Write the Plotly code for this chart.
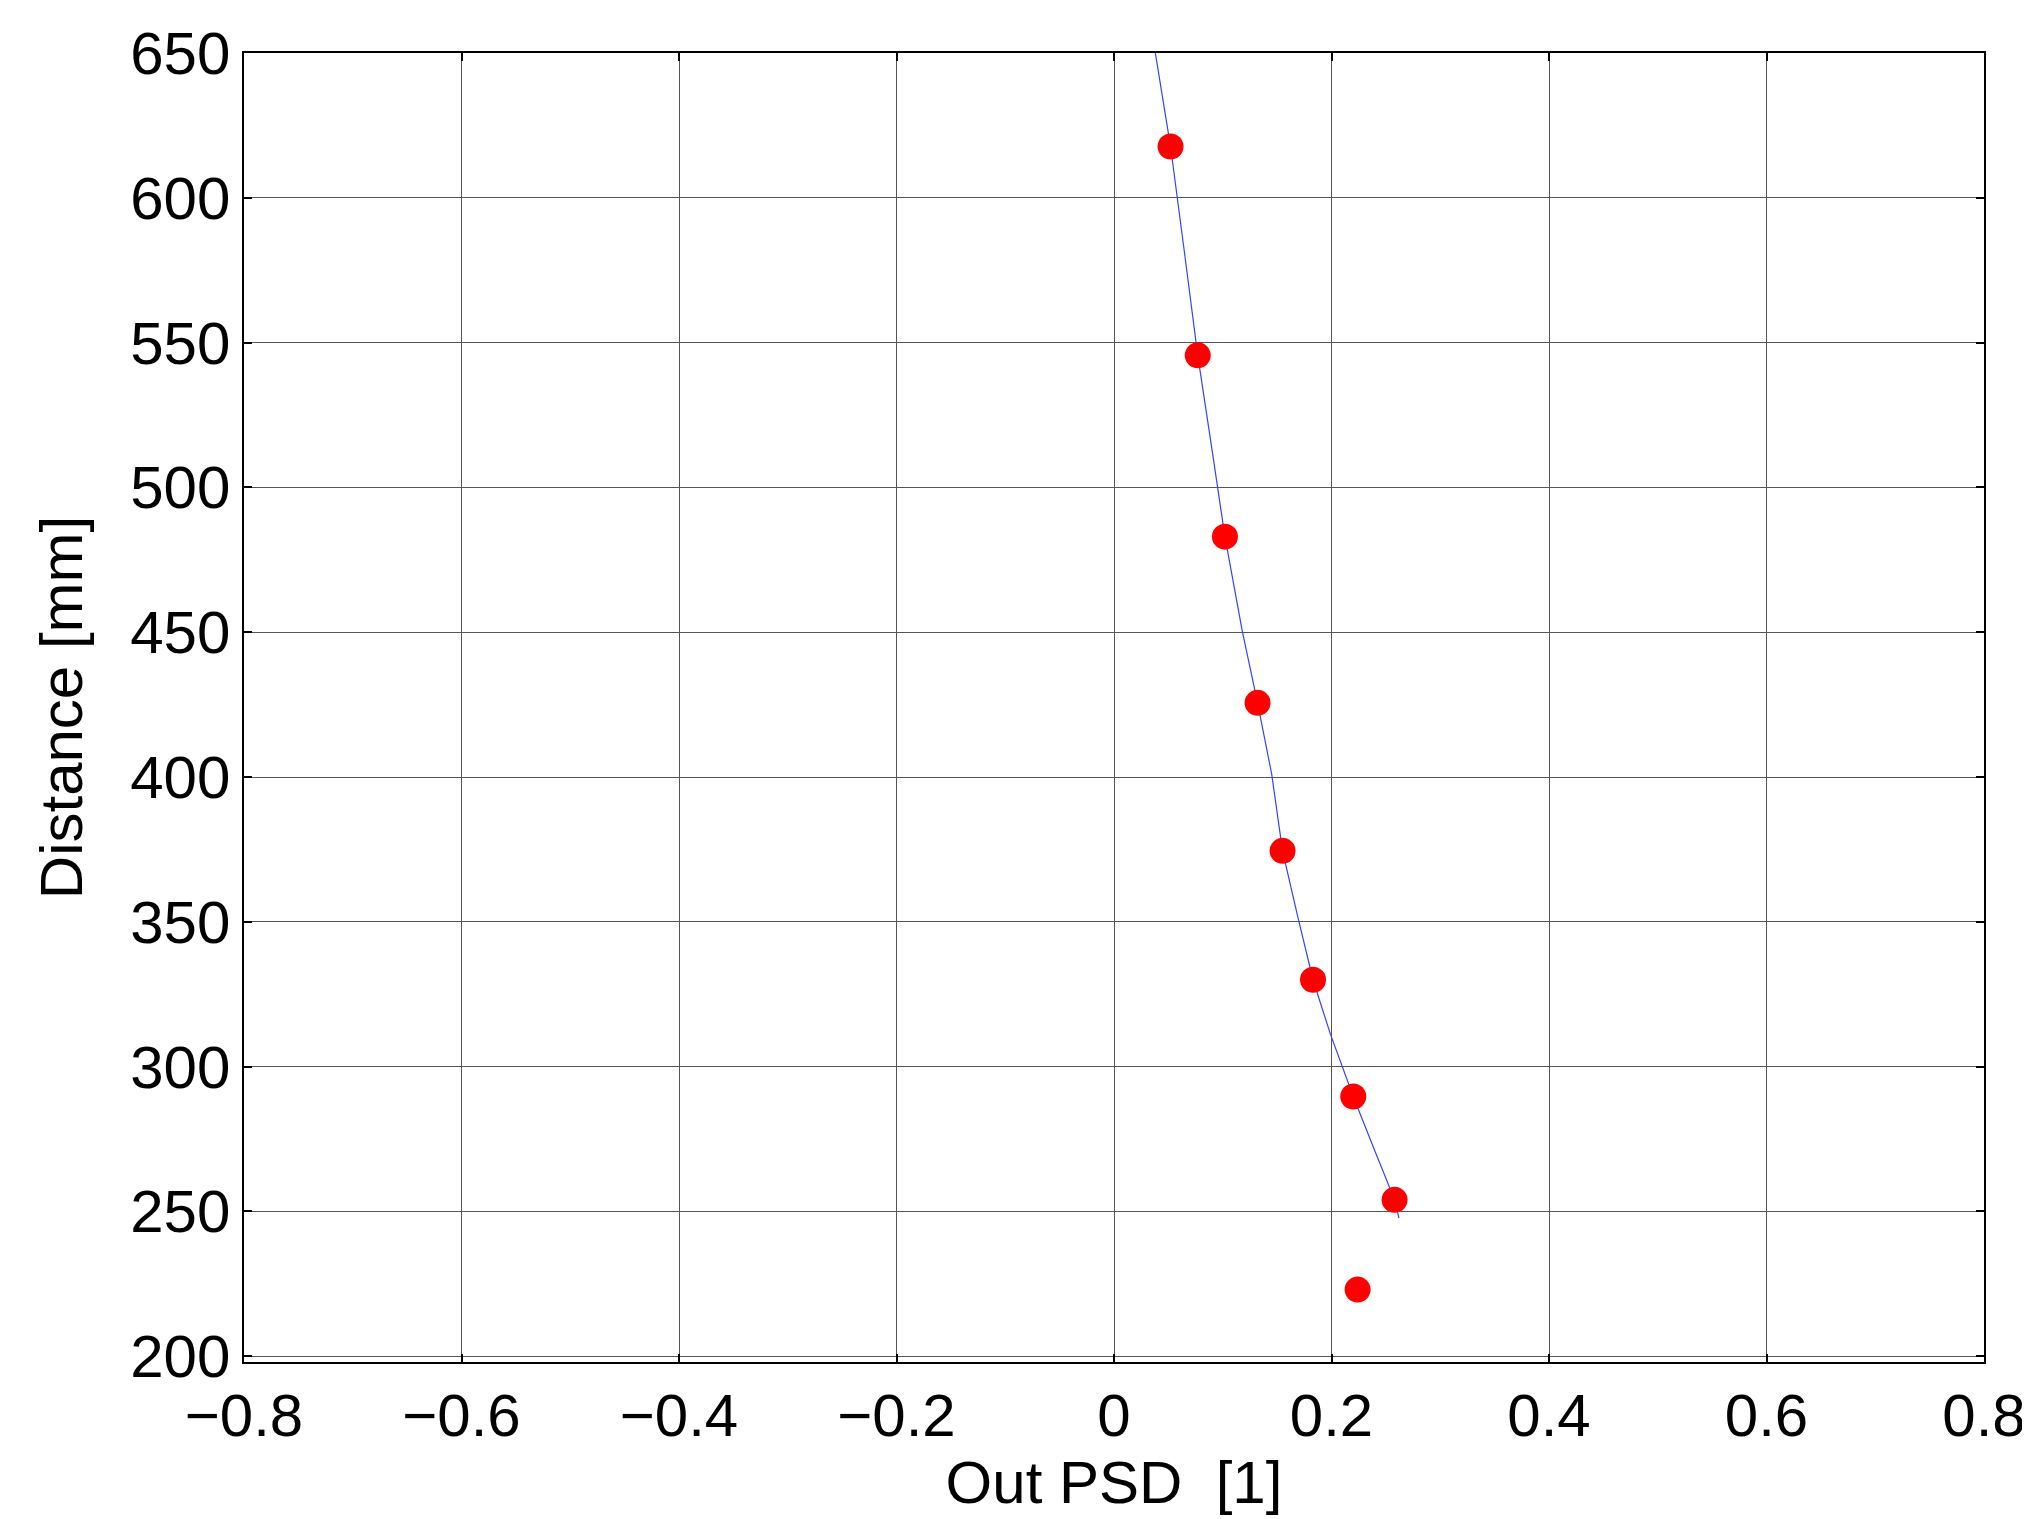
import plotly.graph_objects as go

pts_x = [0.052, 0.077, 0.102, 0.132, 0.155, 0.183, 0.220, 0.258, 0.224]
pts_y = [617.7, 545.6, 483.0, 425.6, 374.5, 330.0, 289.7, 254.0, 223.0]
line_x = [0.038, 0.052, 0.065, 0.077, 0.090, 0.102, 0.118, 0.132, 0.145, 0.155, 0.169, 0.183, 0.199, 0.220, 0.240, 0.258, 0.262]
line_y = [650, 617.7, 580.5, 545.6, 513.3, 483.0, 450.3, 425.6, 401.0, 374.5, 351.7, 330.0, 311.2, 289.7, 270.8, 254.0, 247.7]

fig = go.Figure()
fig.add_trace(go.Scatter(x=line_x, y=line_y, mode="lines", line=dict(color="#3344ff", width=1.2)))
fig.add_trace(go.Scatter(x=pts_x, y=pts_y, mode="markers", marker=dict(color="#ff0000", size=26)))

ax = dict(showline=True, linecolor="black", linewidth=1.5, mirror="ticks", ticks="inside",
          ticklen=8, tickwidth=2, tickcolor="black", showgrid=True, gridcolor="#555555", gridwidth=1,
          zeroline=False, tickfont=dict(size=60, color="black"))
fig.update_xaxes(**ax, range=[-0.8, 0.8],
                 tickvals=[-0.8, -0.6, -0.4, -0.2, 0, 0.2, 0.4, 0.6, 0.8],
                 ticktext=["\u22120.8", "\u22120.6", "\u22120.4", "\u22120.2", "0", "0.2", "0.4", "0.6", "0.8"],
                 title=dict(text="Out PSD  [1]", font=dict(size=60, color="black"), standoff=12))
fig.update_yaxes(**ax, range=[198, 650], tickvals=[200, 250, 300, 350, 400, 450, 500, 550, 600, 650],
                 title=dict(text="Distance [mm]", font=dict(size=60, color="black"), standoff=28))
fig.update_layout(width=2030, height=1519, showlegend=False, plot_bgcolor="white", paper_bgcolor="white",
                  margin=dict(l=236, r=50, t=40, b=165), font=dict(family="Liberation Sans, Arial"))
fig.write_html("out.html")
